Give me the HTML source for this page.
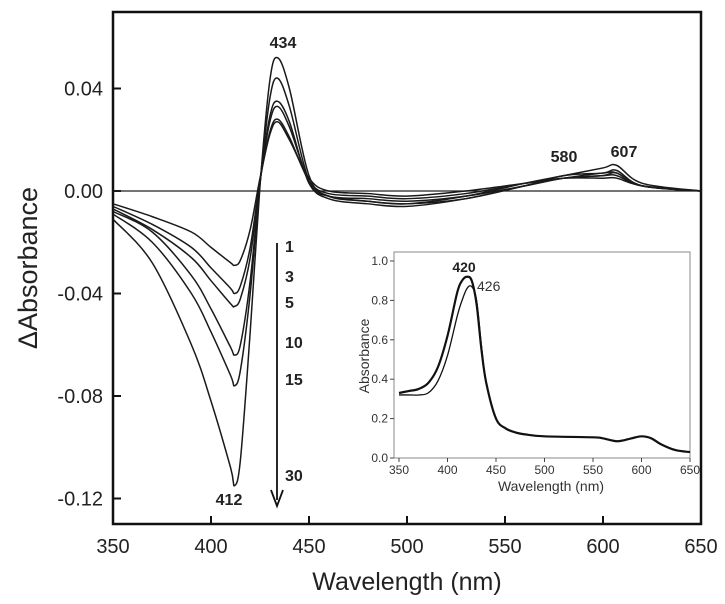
<!DOCTYPE html>
<html><head><meta charset="utf-8"><style>
body{margin:0;background:#fff}
svg{display:block;font-family:"Liberation Sans",sans-serif}
</style></head><body>
<svg id="c" width="725" height="604"></svg>
<script>
const W=[350,370,390,400,410,412,415,420,425,430,434,440,450,460,480,500,530,560,580,600,607,620,650];
const s1=[-0.005,-0.010,-0.016,-0.022,-0.028,-0.029,-0.027,-0.015,0.005,0.022,0.027,0.020,0.005,0.000,-0.001,-0.002,0.000,0.003,0.005,0.005,0.005,0.002,0.000];
const s3=[-0.006,-0.013,-0.022,-0.030,-0.038,-0.040,-0.037,-0.022,0.004,0.023,0.028,0.021,0.004,-0.001,-0.002,-0.003,-0.001,0.003,0.005,0.006,0.006,0.002,0.000];
const s5=[-0.007,-0.015,-0.026,-0.035,-0.044,-0.045,-0.042,-0.026,0.004,0.027,0.033,0.025,0.004,-0.002,-0.003,-0.004,-0.002,0.002,0.005,0.006,0.007,0.002,0.000];
const s10=[-0.008,-0.016,-0.033,-0.046,-0.061,-0.064,-0.060,-0.035,0.003,0.029,0.035,0.027,0.003,-0.002,-0.004,-0.005,-0.003,0.002,0.005,0.007,0.007,0.002,0.000];
const s15=[-0.009,-0.020,-0.040,-0.055,-0.072,-0.076,-0.070,-0.040,0.003,0.036,0.044,0.033,0.004,-0.003,-0.005,-0.006,-0.003,0.002,0.006,0.007,0.008,0.002,0.000];
const s30=[-0.011,-0.028,-0.060,-0.082,-0.108,-0.115,-0.105,-0.055,0.002,0.043,0.052,0.040,0.006,-0.002,-0.004,-0.005,-0.002,0.003,0.006,0.009,0.010,0.003,0.000];
const baseW=[350,650];
const baseV=[0,0];
const xTicks=[350,400,450,500,550,600,650];
const yTicks=[0.04,0.00,-0.04,-0.08,-0.12];
const yTickLabels=["0.04","0.00","-0.04","-0.08","-0.12"];
const W2=[350,360,370,380,390,400,410,415,420,425,430,435,440,450,460,470,480,500,550,560,575,590,600,610,620,635,650];
const thick=[0.33,0.34,0.35,0.38,0.46,0.62,0.84,0.90,0.92,0.90,0.78,0.55,0.38,0.20,0.15,0.13,0.12,0.11,0.105,0.10,0.085,0.10,0.11,0.10,0.07,0.04,0.03];
const thin=[0.32,0.32,0.32,0.33,0.39,0.52,0.72,0.80,0.86,0.87,0.80,0.57,0.38,0.20,0.15,0.13,0.12,0.11,0.105,0.10,0.085,0.10,0.11,0.10,0.07,0.04,0.03];
const ix=[350,400,450,500,550,600,650];
const iy=[0,0.2,0.4,0.6,0.8,1.0];
const iyLabels=["0.0","0.2","0.4","0.6","0.8","1.0"];

const svg=document.getElementById('c');
const NS='http://www.w3.org/2000/svg';
function mk(t,a,p){const e=document.createElementNS(NS,t);for(const k in a)e.setAttribute(k,a[k]);(p||svg).appendChild(e);return e;}
const X=v=>113+(v-350)/300*588;
const Y=v=>191-v/0.04*102.5;
const IX=v=>399+(v-350)/300*291;
const IY=v=>458-v*197;
function smooth(xs,ys,fx,fy){const p=xs.map((x,i)=>[fx(x),fy(ys[i])]);let d='M'+p[0][0]+','+p[0][1];
for(let i=0;i<p.length-1;i++){const p0=p[Math.max(0,i-1)],p1=p[i],p2=p[i+1],p3=p[Math.min(p.length-1,i+2)];
d+=' C'+(p1[0]+(p2[0]-p0[0])/6)+','+(p1[1]+(p2[1]-p0[1])/6)+' '+(p2[0]-(p3[0]-p1[0])/6)+','+(p2[1]-(p3[1]-p1[1])/6)+' '+p2[0]+','+p2[1];}return d;}

// main frame
let f=mk('rect',{x:113,y:12,width:588,height:512,fill:'none',stroke:'#111','stroke-width':2.5});


xTicks.forEach(v=>{let l=mk('line',{x1:X(v),x2:X(v),y1:524,y2:516,stroke:'#111','stroke-width':2});


let t=mk('text',{x:X(v),y:553,'font-size':20,'text-anchor':'middle',fill:'#222'});t.textContent=v;

});
yTicks.forEach((v,i)=>{let l=mk('line',{x1:113,x2:121,y1:Y(v),y2:Y(v),stroke:'#111','stroke-width':2});


let t=mk('text',{x:103,y:Y(v)+7,'font-size':20,'text-anchor':'end',fill:'#222'});t.textContent=yTickLabels[i];

});
let xt=mk('text',{x:407,y:590,'font-size':25,'text-anchor':'middle',fill:'#222'});xt.textContent='Wavelength (nm)';


let yt=mk('text',{x:0,y:0,'font-size':27,'text-anchor':'middle',fill:'#222',transform:'translate(37,268) rotate(-90)'});yt.textContent='\u0394Absorbance';



let b=mk('path',{d:smooth(baseW,baseV,X,Y),fill:'none',stroke:'#222','stroke-width':1.3});


[[s1,'series-1'],[s3,'series-3'],[s5,'series-5'],[s10,'series-10'],[s15,'series-15'],[s30,'series-30']].forEach(([s,n])=>{
let p=mk('path',{d:smooth(W,s,X,Y),fill:'none',stroke:'#1a1a1a','stroke-width':1.5});

});

// arrow
let ar=mk('line',{x1:277,x2:277,y1:243,y2:500,stroke:'#111','stroke-width':1.8});


let ah=mk('path',{d:'M271,490 L277,506 L283,490',fill:'none',stroke:'#111','stroke-width':1.8});


[['1',285,252],['3',285,282],['5',285,308],['10',285,348],['15',285,385],['30',285,481],['434',283,48],['412',229,505],['580',564,162],['607',624,157]].forEach(([s,x,y])=>{
let t=mk('text',{x:x,y:y,'font-size':16,'font-weight':'bold',fill:'#222','text-anchor':(s.length===3?'middle':'start')});t.textContent=s;

});

// inset
let ifr=mk('rect',{x:394,y:252,width:296,height:206,fill:'#fff',stroke:'#888','stroke-width':1});


ix.forEach(v=>{let l=mk('line',{x1:IX(v),x2:IX(v),y1:458,y2:462,stroke:'#444'});


let t=mk('text',{x:IX(v),y:474,'font-size':12,'text-anchor':'middle',fill:'#333'});t.textContent=v;

});
iy.forEach((v,i)=>{let l=mk('line',{x1:390,x2:394,y1:IY(v),y2:IY(v),stroke:'#444'});


let t=mk('text',{x:388,y:IY(v)+4,'font-size':12,'text-anchor':'end',fill:'#333'});t.textContent=iyLabels[i];

});
let ixt=mk('text',{x:551,y:491,'font-size':14,'text-anchor':'middle',fill:'#333'});ixt.textContent='Wavelength (nm)';


let iyt=mk('text',{x:0,y:0,'font-size':14,'text-anchor':'middle',fill:'#333',transform:'translate(369,356) rotate(-90)'});iyt.textContent='Absorbance';


let p1=mk('path',{d:smooth(W2,thin,IX,IY),fill:'none',stroke:'#111','stroke-width':1.3});


let p2=mk('path',{d:smooth(W2,thick,IX,IY),fill:'none',stroke:'#111','stroke-width':2.2});


let a1=mk('text',{x:464,y:272,'font-size':14,'font-weight':'bold','text-anchor':'middle',fill:'#222'});a1.textContent='420';


let a2=mk('text',{x:477,y:291,'font-size':14,fill:'#333'});a2.textContent='426';


</script>
</body></html>
